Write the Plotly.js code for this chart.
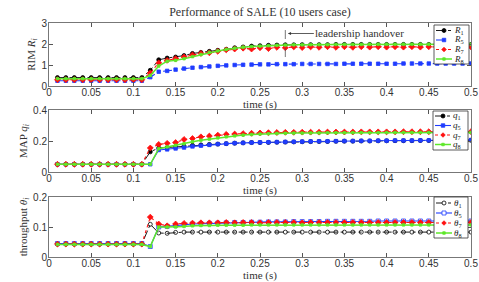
<!DOCTYPE html>
<html><head><meta charset="utf-8">
<script src="https://cdn.plot.ly/plotly-3.0.1.min.js"></script>
<style>html,body{margin:0;padding:0;background:#fff}</style>
</head><body><div id="chart" style="width:479px;height:282px"></div>
<script>
const time = [0.01,0.02,0.03,0.04,0.05,0.06,0.07,0.08,0.09,0.10,
  0.11,0.12,0.13,0.14,0.15,0.16,0.17,0.18,0.19,0.20,
  0.21,0.22,0.23,0.24,0.25,0.26,0.27,0.28,0.29,0.30,
  0.31,0.32,0.33,0.34,0.35,0.36,0.37,0.38,0.39,0.40,
  0.41,0.42,0.43,0.44,0.45,0.46,0.47,0.48,0.49,0.50];

const R1 = [0.40,0.40,0.40,0.40,0.40,0.40,0.40,0.40,0.40,0.40,0.40,
  0.75,1.25,1.33,1.38,1.45,1.55,1.60,1.65,1.70,1.75,1.82,1.86,1.90,1.92,1.94,1.95,
  1.96,1.96,1.97,1.97,1.97,1.97,1.98,1.98,1.98,1.98,1.98,1.98,1.98,1.98,1.98,1.98,1.98,1.98,1.98,1.98,1.98,1.98,1.98];
const R5 = [0.25,0.25,0.25,0.25,0.25,0.25,0.25,0.25,0.25,0.25,0.25,
  0.42,0.68,0.72,0.78,0.83,0.87,0.90,0.93,0.96,0.98,1.00,1.01,1.02,1.03,1.03,1.04,
  1.04,1.04,1.05,1.05,1.05,1.05,1.05,1.06,1.06,1.06,1.06,1.06,1.06,1.06,1.07,1.07,1.07,1.07,1.07,1.07,1.07,1.07,1.07];
const R7 = [0.30,0.30,0.30,0.30,0.30,0.30,0.30,0.30,0.30,0.30,0.30,
  0.62,1.10,1.22,1.30,1.38,1.48,1.55,1.58,1.65,1.72,1.76,1.80,1.76,1.82,1.78,1.84,
  1.82,1.86,1.83,1.86,1.84,1.87,1.84,1.87,1.84,1.87,1.85,1.87,1.85,1.87,1.85,1.87,1.85,1.87,1.85,1.87,1.85,1.87,1.86];
const R8 = [0.35,0.35,0.35,0.35,0.35,0.35,0.35,0.35,0.35,0.35,0.35,
  0.50,0.95,1.18,1.22,1.30,1.40,1.50,1.60,1.67,1.74,1.80,1.85,1.88,1.90,1.92,1.94,
  1.95,1.96,1.96,1.97,1.97,1.97,1.98,1.98,1.98,1.98,1.99,1.99,1.99,1.99,1.99,1.99,1.99,1.99,1.99,1.99,1.99,1.99,1.99];

const q1 = [0.05,0.05,0.05,0.05,0.05,0.05,0.05,0.05,0.05,0.05,0.05,
  0.130,0.155,0.158,0.162,0.167,0.172,0.175,0.178,0.180,0.183,0.186,0.188,0.190,0.190,0.191,0.192,
  0.193,0.194,0.195,0.196,0.197,0.197,0.198,0.199,0.199,0.200,0.200,0.201,0.201,0.202,0.202,0.202,0.203,0.203,0.203,0.204,0.204,0.204,0.205];
const q5 = [0.05,0.05,0.05,0.05,0.05,0.05,0.05,0.05,0.05,0.05,0.05,0.05,
  0.142,0.146,0.152,0.158,0.165,0.170,0.175,0.180,0.183,0.186,0.188,0.190,0.191,0.192,0.193,
  0.194,0.195,0.196,0.197,0.198,0.198,0.199,0.200,0.200,0.201,0.201,0.202,0.202,0.203,0.203,0.203,0.204,0.204,0.204,0.205,0.205,0.205,0.206];
const q7 = [0.05,0.05,0.05,0.05,0.05,0.05,0.05,0.05,0.05,0.05,0.05,
  0.155,0.178,0.185,0.190,0.210,0.216,0.227,0.232,0.238,0.243,0.245,0.248,0.250,0.252,0.254,0.255,
  0.256,0.256,0.257,0.257,0.257,0.258,0.258,0.258,0.258,0.259,0.259,0.259,0.259,0.259,0.260,0.260,0.260,0.260,0.260,0.260,0.260,0.260,0.260];
const q8 = [0.05,0.05,0.05,0.05,0.05,0.05,0.05,0.05,0.05,0.05,0.05,0.05,
  0.150,0.162,0.172,0.182,0.195,0.205,0.212,0.220,0.227,0.233,0.238,0.242,0.245,0.247,0.249,
  0.250,0.251,0.251,0.252,0.252,0.253,0.253,0.253,0.254,0.254,0.254,0.254,0.255,0.255,0.255,0.255,0.255,0.255,0.255,0.255,0.255,0.255,0.255];

const th1 = [0.043,0.043,0.043,0.043,0.043,0.043,0.043,0.043,0.043,0.043,0.043,
  0.109,0.080,0.079,0.082,
  0.083,0.083,0.083,0.083,0.083,0.083,0.083,0.083,0.083,0.083,0.083,0.083,0.083,0.083,0.083,0.083,0.083,0.083,
  0.083,0.083,0.083,0.083,0.083,0.083,0.083,0.083,0.083,0.083,0.083,0.083,0.083,0.083,0.083,0.083,0.083];
const th5 = [0.045,0.045,0.045,0.045,0.045,0.045,0.045,0.045,0.045,0.045,0.045,
  0.035,0.100,0.102,0.105,0.108,0.110,
  0.111,0.112,0.113,0.114,0.115,0.115,0.116,0.116,0.117,0.117,0.117,0.118,0.118,0.118,0.118,0.119,0.119,
  0.119,0.119,0.119,0.119,0.120,0.120,0.120,0.120,0.120,0.120,0.120,0.120,0.120,0.120,0.120,0.120];
const th7 = [0.043,0.043,0.043,0.043,0.043,0.043,0.043,0.043,0.043,0.043,0.043,
  0.133,0.110,0.104,0.110,0.112,0.113,
  0.114,0.114,0.114,0.115,0.114,0.115,0.115,0.114,0.115,0.115,0.115,0.115,0.114,0.115,0.115,0.115,0.115,
  0.115,0.115,0.115,0.115,0.115,0.115,0.115,0.115,0.115,0.115,0.115,0.115,0.115,0.115,0.115,0.115];
const th8 = [0.042,0.042,0.042,0.042,0.042,0.042,0.042,0.042,0.042,0.042,0.042,
  0.035,0.100,0.100,0.100,0.102,0.104,
  0.105,0.105,0.106,0.106,0.106,0.106,0.107,0.107,0.107,0.107,0.107,0.107,0.107,0.107,0.107,0.107,0.107,
  0.107,0.107,0.107,0.107,0.107,0.107,0.107,0.107,0.107,0.107,0.107,0.107,0.107,0.107,0.107,0.107];

const xTicks = [0,0.05,0.1,0.15,0.2,0.25,0.3,0.35,0.4,0.45,0.5];
const xTickText = ['0','0.05','0.1','0.15','0.2','0.25','0.3','0.35','0.4','0.45','0.5'];
const y1Ticks = [0,1,2,3];
const y2Ticks = [0,0.2,0.4];
const y3Ticks = [0,0.1,0.2];
const labelsR = ['<i>R</i><sub>1</sub>','<i>R</i><sub>5</sub>','<i>R</i><sub>7</sub>','<i>R</i><sub>8</sub>'];
const labelsQ = ['<i>q</i><sub>1</sub>','<i>q</i><sub>5</sub>','<i>q</i><sub>7</sub>','<i>q</i><sub>8</sub>'];
const labelsT = ['<i>θ</i><sub>1</sub>','<i>θ</i><sub>5</sub>','<i>θ</i><sub>7</sub>','<i>θ</i><sub>8</sub>'];

// styles
const C_BLACK='#000000', C_BLUE='#1f3cff', C_RED='#ff1010', C_GREEN='#5ee82a';
const SERIF = 'Liberation Serif, Times New Roman, serif';
const SANS = 'Liberation Sans, Arial, sans-serif';

const styles = {
  top: [
    {c:C_BLACK, dash:'dashdot', sym:'circle', sz:4, w:0.9},
    {c:C_BLUE, dash:'dash', sym:'square', sz:3.5, w:1.1},
    {c:C_RED, dash:'dot', sym:'diamond', sz:4.5, w:1.1},
    {c:C_GREEN, dash:'solid', sym:'square', sz:2.5, w:1.5}],
  mid: [
    {c:C_BLACK, dash:'dashdot', sym:'circle', sz:4, w:0.9},
    {c:C_BLUE, dash:'solid', sym:'square', sz:3.5, w:1.1},
    {c:C_RED, dash:'dot', sym:'diamond', sz:4.5, w:1.1},
    {c:C_GREEN, dash:'solid', sym:'square', sz:2.5, w:1.5}],
  bot: [
    {c:C_BLACK, dash:'dashdot', sym:'circle-open', sz:4, w:0.9},
    {c:C_BLUE, dash:'solid', sym:'square-open', sz:4, w:1.1},
    {c:C_RED, dash:'dot', sym:'diamond', sz:4.5, w:1.1},
    {c:C_GREEN, dash:'solid', sym:'square', sz:2.5, w:1.5}]
};

function mk(y, st, xa, ya){
  return {x: time, y: y, xaxis: xa, yaxis: ya, type:'scatter', mode:'lines+markers',
    showlegend:false, hoverinfo:'skip',
    line:{color:st.c, dash:st.dash, width:st.w},
    marker:{symbol:st.sym, size:st.sz, color:st.c, line:{color:st.c, width:0.8}}};
}
const data = [
  mk(R1, styles.top[0],'x','y'), mk(R5, styles.top[1],'x','y'), mk(R7, styles.top[2],'x','y'), mk(R8, styles.top[3],'x','y'),
  mk(q1, styles.mid[0],'x2','y2'), mk(q5, styles.mid[1],'x2','y2'), mk(q7, styles.mid[2],'x2','y2'), mk(q8, styles.mid[3],'x2','y2'),
  mk(th1, styles.bot[0],'x3','y3'), mk(th5, styles.bot[1],'x3','y3'), mk(th7, styles.bot[2],'x3','y3'), mk(th8, styles.bot[3],'x3','y3')
];

const W=479, H=282, ML=49, MR=8;
const PW = W-ML-MR;
const px = v => (v-ML)/PW;
const py = v => 1 - v/H;

function xax(){
  return {range:[0,0.5], tickvals:xTicks, ticktext:xTickText, ticks:'inside', ticklen:4,
    tickcolor:'#555', showline:true, linecolor:'#777', linewidth:1, mirror:'ticks',
    showgrid:false, zeroline:false, tickfont:{family:SANS, size:10, color:'#333'}, ticklabelstandoff:-3,
    title:{text:'time (s)', font:{family:SERIF, size:11, color:'#333'}, standoff:0}, automargin:false};
}
function yax(dom, rng, tv, title){
  return {domain:dom, range:rng, tickvals:tv, ticks:'inside', ticklen:4, tickcolor:'#555',
    showline:true, linecolor:'#777', linewidth:1, mirror:'ticks', showgrid:false, zeroline:false,
    tickfont:{family:SANS, size:10, color:'#333'}, ticklabelstandoff:-1,
    title:{text:title, font:{family:SERIF, size:11, color:'#333'}, standoff:3}, automargin:false};
}

const shapes = [];
const annotations = [];

// leadership handover marker
shapes.push({type:'line', xref:'x', yref:'y', x0:0.28, x1:0.28, y0:1.38, y1:2.67,
  line:{color:'#555', width:0.8, dash:'dash'}});
annotations.push({xref:'x', yref:'y', x:0.283, y:2.5, ax:72, ay:0, axref:'pixel', ayref:'pixel',
  text:'leadership handover', showarrow:true, arrowhead:2, arrowsize:0.8, arrowwidth:0.8, standoff:0,
  arrowcolor:'#333', font:{family:SERIF, size:11, color:'#333'}});

// custom compact legends
function legendBox(box, rows, labels, sts){
  shapes.push({type:'rect', xref:'paper', yref:'paper', x0:px(box[0]), x1:px(box[1]),
    y0:py(box[3]), y1:py(box[2]), fillcolor:'#ffffff', line:{color:'#333', width:0.8}, layer:'above'});
  rows.forEach((ry,i)=>{
    const st = sts[i];
    shapes.push({type:'line', xref:'paper', yref:'paper', x0:px(box[0]+2), x1:px(box[0]+18),
      y0:py(ry), y1:py(ry), line:{color:st.c, width:st.w, dash:st.dash}, layer:'above'});
    const cx = px(box[0]+10), cy = py(ry);
    const r = st.sz/2;
    const open = st.sym.indexOf('open')>=0;
    const base = {xref:'paper', yref:'paper', xsizemode:'pixel', ysizemode:'pixel', xanchor:cx, yanchor:cy,
      layer:'above', line:{color:st.c, width:0.8}, fillcolor: open ? '#ffffff' : st.c};
    if (st.sym.startsWith('circle')) shapes.push(Object.assign({type:'circle', x0:-r, x1:r, y0:-r, y1:r}, base));
    else if (st.sym.startsWith('square')) shapes.push(Object.assign({type:'rect', x0:-r, x1:r, y0:-r, y1:r}, base));
    else shapes.push(Object.assign({type:'path', path:`M ${-r} 0 L 0 ${r} L ${r} 0 L 0 ${-r} Z`}, base));
    annotations.push({xref:'paper', yref:'paper', x:px(box[0]+19), y:cy, xanchor:'left', yanchor:'middle',
      showarrow:false, text:labels[i], font:{family:SERIF, size:9, color:'#222'}, borderpad:0});
  });
}
legendBox([434,469,25,64],[30.5,40,49.5,59], labelsR, styles.top);
legendBox([433,468,111,150],[116,125.5,135,144.5], labelsQ, styles.mid);
legendBox([434,468,197,238],[203,213,223,233], labelsT, styles.bot);

const layout = {
  width:W, height:H, margin:{l:ML, r:MR, t:0, b:0}, paper_bgcolor:'#fff', plot_bgcolor:'#fff',
  showlegend:false,
  title:{text:'Performance of SALE (10 users case)', x:0.5, xref:'paper', y:py(12), yref:'container', yanchor:'middle',
    font:{family:SERIF, size:12, color:'#333'}},
  xaxis: Object.assign(xax(), {anchor:'y'}),
  xaxis2: Object.assign(xax(), {anchor:'y2'}),
  xaxis3: Object.assign(xax(), {anchor:'y3'}),
  yaxis: Object.assign(yax([py(86),py(23)],[0,3],y1Ticks,'RIM <i>R</i><sub><i>i</i></sub>'), {anchor:'x'}),
  yaxis2: Object.assign(yax([py(172),py(110)],[0,0.4],y2Ticks,'MAP <i>q</i><sub><i>i</i></sub>'), {anchor:'x2'}),
  yaxis3: Object.assign(yax([py(257),py(197)],[0,0.2],y3Ticks,'throughput <i>θ</i><sub><i>i</i></sub>'), {anchor:'x3'}),
  shapes: shapes, annotations: annotations
};
Plotly.newPlot('chart', data, layout, {displayModeBar:false, staticPlot:true});
</script></body></html>
